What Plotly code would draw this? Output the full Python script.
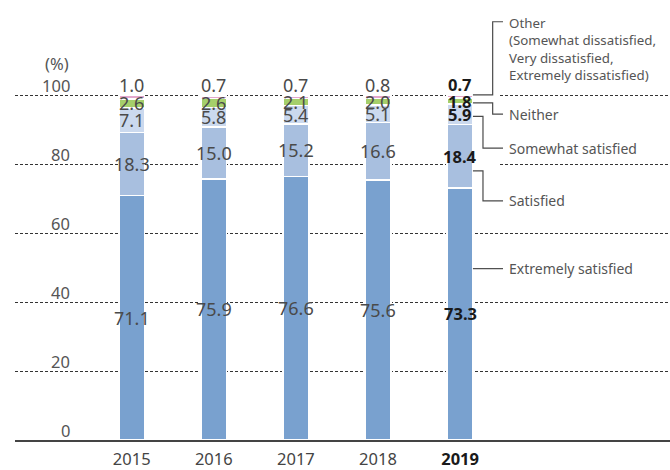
import plotly.graph_objects as go

# Customer satisfaction survey results by year (%)
years = ["2015", "2016", "2017", "2018", "2019"]
extremely_satisfied = [71.1, 75.9, 76.6, 75.6, 73.3]
satisfied = [18.3, 15.0, 15.2, 16.6, 18.4]
somewhat_satisfied = [7.1, 5.8, 5.4, 5.1, 5.9]
neither = [2.6, 2.6, 2.1, 2.0, 1.8]
other = [1.0, 0.7, 0.7, 0.8, 0.7]
y_ticks = [0, 20, 40, 60, 80, 100]

series = [
    ("Extremely satisfied", extremely_satisfied, "#79a1cf"),
    ("Satisfied", satisfied, "#a8bfdf"),
    ("Somewhat satisfied", somewhat_satisfied, "#cbd9ee"),
    ("Neither", neither, "#a5cf6b"),
    ("Other", other, "#e3a7cd"),
]

FONT = "Noto Sans"
NARROW = "Liberation Sans Narrow, Noto Sans"
BAR_W = 0.313
xpos = list(range(len(years)))

fig = go.Figure()
for name, vals, color in series:
    fig.add_trace(go.Bar(
        x=xpos, y=vals, name=name, width=BAR_W,
        marker=dict(color=color, line=dict(color="white", width=1.5)),
        hoverinfo="skip",
    ))

annotations = []
last = len(years) - 1

# value labels centred in each segment; "Other" sits above the stack
for i in xpos:
    if i == last:
        fnt = dict(family=FONT, size=16.5, color="#1a1a1a", weight=700)
    else:
        fnt = dict(family=NARROW, size=18, color="#4a4a4a", weight=400)
    base = 0.0
    for name, vals, _ in series:
        v = vals[i]
        if name == "Other":
            annotations.append(dict(x=i, y=base + v, text=f"{v:.1f}", showarrow=False,
                                    xanchor="center", yanchor="middle", yshift=11, font=fnt))
        else:
            annotations.append(dict(x=i, y=base + v / 2, text=f"{v:.1f}", showarrow=False,
                                    xanchor="center", yanchor="middle", font=fnt))
        base += v

# y-axis values written just above each gridline
PX0, PW = 15, 655
def px_to_paper(px):
    return (px - PX0) / PW

axis_font = dict(family=FONT, size=16.5, color="#555555")
for t in y_ticks:
    annotations.append(dict(x=px_to_paper(72), xref="paper", y=t, yref="y", text=str(t),
                            showarrow=False, xanchor="right", yanchor="middle", yshift=10,
                            font=axis_font))
annotations.append(dict(x=px_to_paper(71), xref="paper", y=109.5, yref="y", text="(%)",
                        showarrow=False, xanchor="right", yanchor="middle", font=axis_font))

# leader lines from the latest bar to the category names
xr = last + BAR_W / 2
x_mid_a = last + 0.279
x_mid_b = last + 0.397
x_end = last + 0.523
x_text = last + 0.575
line_style = dict(color="#4a4a4a", width=1.2)

leaders = [
    [(xr, 100.3), (x_mid_b, 100.3), (x_mid_b, 121.55), (x_end, 121.55)],
    [(xr, 98.0), (x_mid_b, 98.0), (x_mid_b, 94.7), (x_end, 94.7)],
    [(xr, 94.05), (x_mid_a, 94.05), (x_mid_a, 84.8), (x_end, 84.8)],
    [(xr, 78.2), (x_mid_a, 78.2), (x_mid_a, 69.5), (x_end, 69.5)],
    [(xr, 49.8), (x_end, 49.8)],
]
shapes = [dict(type="rect", xref="x", yref="y", x0=xr, x1=last + 0.47, y0=75, y1=105,
               fillcolor="white", line=dict(width=0), layer="between")]
for pts in leaders:
    path = "M " + " L ".join(f"{x},{y}" for x, y in pts)
    shapes.append(dict(type="path", xref="x", yref="y", path=path, line=line_style))

label_font = dict(family=FONT, size=14, color="#555555")
annotations.append(dict(x=x_text, y=124.3, text="Other<br>(Somewhat dissatisfied,<br>Very dissatisfied,<br>Extremely dissatisfied)",
                        showarrow=False, xanchor="left", yanchor="top", align="left",
                        font=dict(family=FONT, size=13.3, color="#555555")))
for txt, yv in [("Neither", 94.7), ("Somewhat satisfied", 84.8), ("Satisfied", 69.5),
                ("Extremely satisfied", 49.8)]:
    annotations.append(dict(x=x_text, y=yv, text=txt, showarrow=False,
                            xanchor="left", yanchor="middle", font=label_font))

ticktext = years[:-1] + [f"<b><span style='color:#1a1a1a'>{years[-1]}</span></b>"]

fig.update_layout(
    width=670, height=470,
    margin=dict(l=15, r=0, t=0, b=25),
    paper_bgcolor="white", plot_bgcolor="white",
    barmode="stack", showlegend=False,
    font=dict(family=FONT, color="#444444"),
    xaxis=dict(range=[-1.4214, 6.557], tickvals=xpos, ticktext=ticktext,
               tickfont=dict(family=FONT, size=16.5, color="#444444"),
               ticks="", ticklabelstandoff=3,
               showgrid=False, zeroline=False,
               showline=True, linecolor="#444444", linewidth=1.5),
    yaxis=dict(range=[0, 127.87], tickvals=y_ticks[1:], showticklabels=False,
               showgrid=True, gridcolor="#333333", gridwidth=1, griddash="3px,2px",
               zeroline=False, showline=False),
    annotations=annotations,
    shapes=shapes,
)

fig.write_html("out.html")
